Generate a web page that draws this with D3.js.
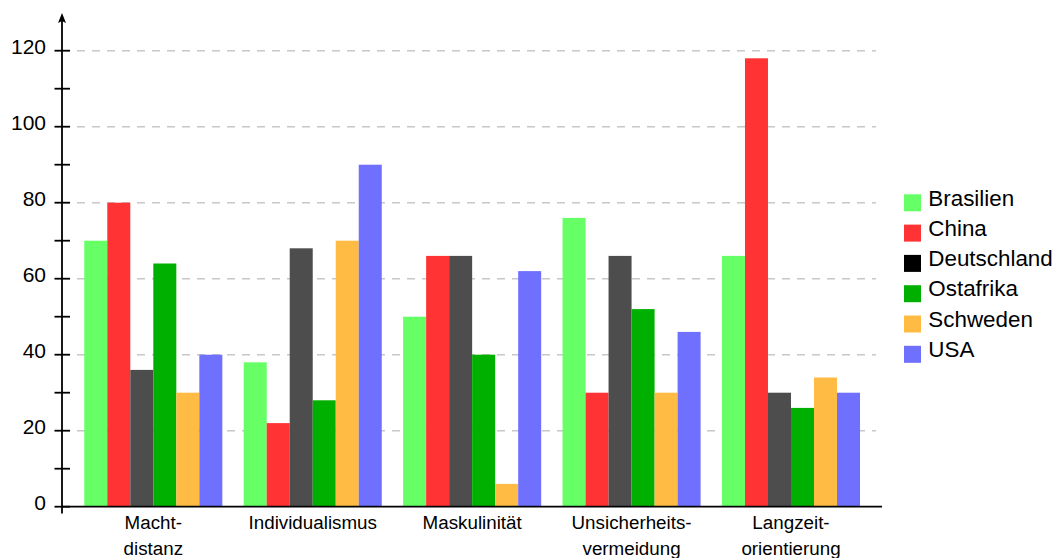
<!DOCTYPE html>
<html>
<head>
<meta charset="utf-8">
<script src="https://cdn.jsdelivr.net/npm/d3@7"></script>
<style>
  html, body { margin: 0; padding: 0; background: #fff; }
  svg { display: block; font-family: "Liberation Sans", Arial, sans-serif; }
</style>
</head>
<body>
<svg id="chart" width="1056" height="558"></svg>
<script>
// ---- data ----
const categories = [["Macht-", "distanz"], ["Individualismus"], ["Maskulinität"], ["Unsicherheits-", "vermeidung"], ["Langzeit-", "orientierung"]];
const categoryKeys = ["Machtdistanz", "Individualismus", "Maskulinität", "Unsicherheitsvermeidung", "Langzeitorientierung"];
const seriesNames = ["Brasilien", "China", "Deutschland", "Ostafrika", "Schweden", "USA"];
const brasilien   = [70, 38, 50, 76, 66];
const china       = [80, 22, 66, 30, 118];
const deutschland = [36, 68, 66, 66, 30];
const ostafrika   = [64, 28, 40, 52, 26];
const schweden    = [30, 70, 6, 30, 34];
const usa         = [40, 90, 62, 46, 30];
const yTicks = [0, 20, 40, 60, 80, 100, 120];
const yMinorTicks = [10, 30, 50, 70, 90, 110];

const seriesValues = [brasilien, china, deutschland, ostafrika, schweden, usa];
const barColors = ["#66ff66", "#ff3333", "#4d4d4d", "#00b000", "#ffbb44", "#7070ff"];
const legendColors = ["#66ff66", "#ff3333", "#000000", "#00b000", "#ffbb44", "#7070ff"];

const svg = d3.select("#chart");

const y = d3.scaleLinear().domain([0, 120]).range([506.7, 50.7]);
const x0 = d3.scaleBand().domain(categoryKeys).range([73.6, 870.7])
  .paddingInner(0.134).paddingOuter(0.067);
const x1 = d3.scaleBand().domain(seriesNames).range([0, x0.bandwidth()]).padding(0);

const axisX = 62;

// grid
svg.append("g").selectAll("line").data(yTicks.filter(d => d > 0)).join("line")
  .attr("x1", 77).attr("x2", 876)
  .attr("y1", d => y(d)).attr("y2", d => y(d))
  .attr("stroke", "#c8c8c8").attr("stroke-width", 1.6)
  .attr("stroke-dasharray", "8,7");

// bars
const groups = svg.append("g").selectAll("g").data(categoryKeys).join("g")
  .attr("transform", d => `translate(${x0(d)},0)`);
groups.selectAll("rect")
  .data((d, i) => seriesNames.map((s, j) => ({ s, j, v: seriesValues[j][i] })))
  .join("rect")
  .attr("x", d => x1(d.s))
  .attr("width", x1.bandwidth())
  .attr("y", d => y(d.v))
  .attr("height", d => y(0) - y(d.v))
  .attr("fill", d => barColors[d.j]);

// axes
const ax = svg.append("g").attr("stroke", "#000").attr("stroke-width", 1.8);
ax.append("line").attr("x1", axisX).attr("x2", 882).attr("y1", y(0)).attr("y2", y(0));
ax.append("line").attr("x1", axisX).attr("x2", axisX).attr("y1", 513.5).attr("y2", 20);
svg.append("path")
  .attr("d", `M${axisX},13 L${axisX + 4},23 L${axisX},21 L${axisX - 4},23 Z`)
  .attr("fill", "#000");

ax.selectAll("line.tick").data(yTicks.concat(yMinorTicks)).join("line")
  .attr("class", "tick")
  .attr("x1", 54.5).attr("x2", 70)
  .attr("y1", d => y(d)).attr("y2", d => y(d));

svg.append("g").selectAll("text").data(yTicks).join("text")
  .attr("x", 46).attr("y", d => y(d) + 3.2)
  .attr("text-anchor", "end")
  .attr("font-size", 21)
  .attr("fill", "#000")
  .text(d => d);

// x labels
const xl = svg.append("g").selectAll("text").data(categoryKeys).join("text")
  .attr("text-anchor", "middle")
  .attr("font-size", 18.8)
  .attr("fill", "#000")
  .attr("transform", d => `translate(${x0(d) + x0.bandwidth() / 2},528.5)`);
xl.selectAll("tspan").data((d, i) => categories[i]).join("tspan")
  .attr("x", 0).attr("dy", (d, i) => i === 0 ? 0 : 26)
  .text(d => d);

// legend
const lg = svg.append("g").selectAll("g").data(seriesNames).join("g")
  .attr("transform", (d, i) => `translate(904,${194.3 + i * 30.3})`);
lg.append("rect").attr("width", 17).attr("height", 17)
  .attr("fill", (d, i) => legendColors[i]);
lg.append("text").attr("x", 24.3).attr("y", 11.2).attr("font-size", 22.4)
  .attr("fill", "#000").text(d => d);
</script>
</body>
</html>
